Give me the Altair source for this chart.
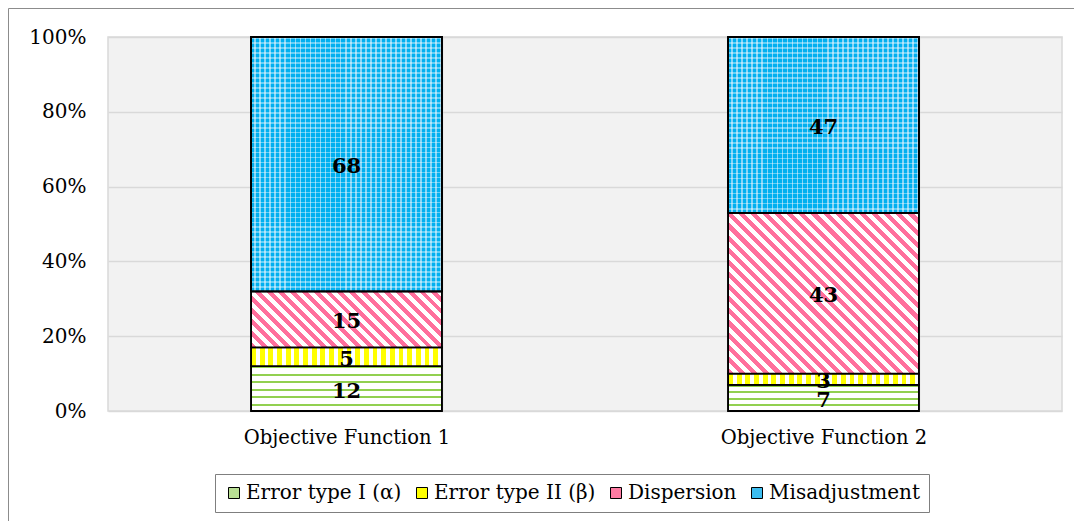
import altair as alt
import pandas as pd

# ---------------- data ----------------
categories = ["Objective Function 1", "Objective Function 2"]
series = ["Error type I (α)", "Error type II (β)", "Dispersion", "Misadjustment"]
of1_values = [12, 5, 15, 68]
of2_values = [7, 3, 43, 47]
y_ticks = [0, 20, 40, 60, 80, 100]

legend_colors = ["#b9df94", "#ffff00", "#ff7ba3", "#3cbdf0"]

# ---------------- layout ----------------
PLOT_W, PLOT_H = 954, 374
BAR_FRAC = 0.4
BAR_W = PLOT_W / len(categories) * BAR_FRAC
FONT = "DejaVu Serif"

rows = []
for cat, vals in zip(categories, [of1_values, of2_values]):
    for i, (s, v) in enumerate(zip(series, vals)):
        rows.append({"cat": cat, "series": s, "value": v, "order": i})
df = pd.DataFrame(rows)


def stripe_stops(c1, c2, frac, n):
    stops = []
    for i in range(n):
        a = i / n
        b = (i + frac) / n
        c = (i + 1) / n
        stops += [
            {"offset": round(a, 5), "color": c1},
            {"offset": round(b, 5), "color": c1},
            {"offset": round(b, 5), "color": c2},
            {"offset": round(c, 5), "color": c2},
        ]
    return stops


def grad(stops, x1, y1, x2, y2):
    return {"gradient": "linear", "stops": stops,
            "x1": x1, "y1": y1, "x2": x2, "y2": y2}


def fills_for(series_idx, value):
    W = BAR_W
    H = max(value / 100 * PLOT_H, 1)
    if series_idx == 0:  # green wavy -> horizontal thin lines
        n = max(int(round(H / 7)), 1)
        return [grad(stripe_stops("#92d050", "#ffffff", 0.3, n), 0, 0, 0, 1)]
    if series_idx == 1:  # yellow vertical stripes
        n = max(int(round(W / 8.7)), 1)
        return [grad(stripe_stops("#ffff00", "#ffffff", 0.55, n), 0, 0, 1, 0)]
    if series_idx == 2:  # pink diagonal stripes "\"
        k = (W + H) / (W * W + H * H)
        n = max(int(round((W + H) / 12)), 1)
        return [grad(stripe_stops("#ff6f9c", "#ffffff", 0.5, n),
                     0, 1, round(k * W, 5), round(1 - k * H, 5))]
    # blue checker: vertical stripes + translucent horizontal stripes
    nv = max(int(round(W / 5)), 1)
    nh = max(int(round(H / 5)), 1)
    return [
        grad(stripe_stops("#00b0f0", "#86d5f6", 0.65, nv), 0, 0, 1, 0),
        grad(stripe_stops("rgba(255,255,255,0.4)", "rgba(255,255,255,0)", 0.35, nh), 0, 0, 0, 1),
    ]


base = alt.Chart(df).transform_stack(
    stack="value", groupby=["cat"],
    sort=[alt.SortField("order", order="ascending")],
    as_=["y0", "y1"],
)

x_axis = alt.Axis(title=None, labelAngle=0, labelFontSize=19.5, labelPadding=17,
                  labelLimit=0, grid=True, tickBand="extent")
y_axis = alt.Axis(title=None, values=y_ticks, labelExpr="datum.value + '%'",
                  labelFontSize=20, labelPadding=22, labelLimit=0, grid=True)
x_scale = alt.Scale(paddingInner=0.6, paddingOuter=0.3)
y_scale = alt.Scale(domain=[0, 100], nice=False)


def X():
    return alt.X("cat:N", sort=categories, scale=x_scale, axis=x_axis)


def Y(field):
    return alt.Y(field, scale=y_scale, axis=y_axis)


legend_layer = base.mark_bar(stroke="black", strokeWidth=1.5).encode(
    x=X(),
    y=Y("y0:Q"),
    y2="y1:Q",
    color=alt.Color(
        "series:N", sort=series,
        scale=alt.Scale(domain=series, range=legend_colors),
        legend=alt.Legend(
            title=None, orient="none", legendX=107, legendY=437,
            direction="horizontal", columns=4,
            symbolType="square", symbolSize=121,
            symbolStrokeColor="black", symbolStrokeWidth=1,
            labelFont=FONT, labelFontSize=20, labelColor="black",
            labelOffset=2, columnPadding=10, labelLimit=0,
            strokeColor="#7f7f7f", padding=9,
        ),
    ),
)

seg_layers = []
for cat, vals in zip(categories, [of1_values, of2_values]):
    for si, (s, v) in enumerate(zip(series, vals)):
        for g in fills_for(si, v):
            seg_layers.append(
                base.transform_filter(
                    (alt.datum.cat == cat) & (alt.datum.series == s)
                ).mark_bar(fill=g, stroke="black", strokeWidth=1.8).encode(
                    x=X(),
                    y=Y("y0:Q"),
                    y2="y1:Q",
                )
            )

text_layer = base.transform_calculate(
    mid="(datum.y0 + datum.y1) / 2"
).mark_text(font=FONT, fontWeight="bold", fontSize=21, color="black", dy=3).encode(
    x=X(),
    y=Y("mid:Q"),
    text="value:Q",
)

frame = alt.Chart(pd.DataFrame({"f": [0]})).mark_rect(
    fillOpacity=0, stroke="#8c8c8c", strokeWidth=1
).encode(
    x=alt.value(-99.5), x2=alt.value(2000),
    y=alt.value(-28.5), y2=alt.value(2000),
)

chart = alt.layer(legend_layer, *seg_layers, text_layer, frame).properties(
    width=PLOT_W, height=PLOT_H,
    autosize=alt.AutoSizeParams(type="none"),
    padding={"left": 100, "top": 29, "right": 12, "bottom": 110},
).configure_view(
    fill="#f2f2f2", stroke="#d9d9d9", strokeWidth=1.5
).configure_axis(
    labelFont=FONT, labelColor="black", domain=False, ticks=False,
    gridColor="#d9d9d9", gridWidth=1.5,
)

chart.save("out.html", embed_options={"renderer": "svg", "actions": False})
